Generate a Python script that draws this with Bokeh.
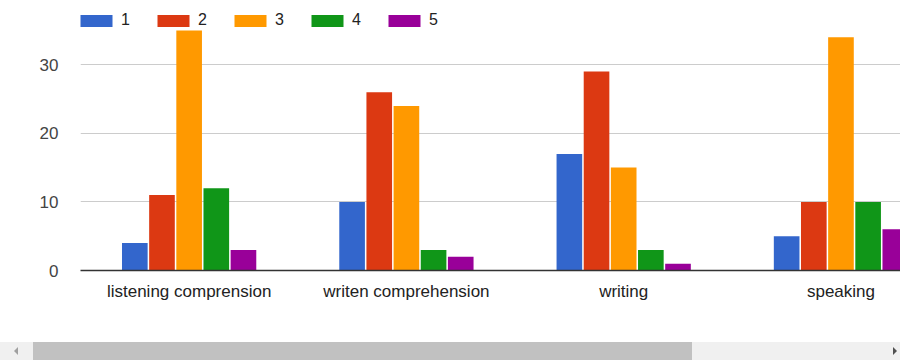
from bokeh.plotting import figure
from bokeh.models import ColumnDataSource, Range1d, FixedTicker, Legend, LegendItem, Div
from bokeh.layouts import column
from bokeh.embed import file_html
from bokeh.resources import INLINE

categories = ["listening comprension", "writen comprehension", "writing", "speaking"]
series_names = ["1", "2", "3", "4", "5"]
s1 = [4, 10, 17, 5]
s2 = [11, 26, 29, 10]
s3 = [35, 24, 15, 34]
s4 = [12, 3, 3, 10]
s5 = [3, 2, 1, 6]
colors = ["#3366cc", "#dc3912", "#ff9900", "#109618", "#990099"]
y_ticks = [0, 10, 20, 30]

series = [s1, s2, s3, s4, s5]
font = "Liberation Sans"

p = figure(width=900, height=342, output_backend="svg", toolbar_location=None,
           x_range=Range1d(-0.5, 3.274), y_range=Range1d(0, 38.2),
           min_border_left=80, min_border_right=0, min_border_top=8, min_border_bottom=72)
p.outline_line_color = None
p.background_fill_color = "white"
p.border_fill_color = "white"

stride = 0.125
width = 0.118
idx = list(range(len(categories)))
items = []
for i, (vals, name, c) in enumerate(zip(series, series_names, colors)):
    src = ColumnDataSource(dict(x=[k + (i - 2) * stride for k in idx], top=vals))
    r = p.vbar(x="x", top="top", bottom=0, width=width, source=src, fill_color=c, line_color=None)
    items.append(LegendItem(label=name, renderers=[r]))

legend = Legend(items=items, orientation="horizontal", location=(-4, 241),
                glyph_width=40, glyph_height=15, label_height=18, label_width=9,
                label_standoff=5, spacing=23, padding=0, margin=0, border_line_color=None,
                background_fill_alpha=0, label_text_font=font, label_text_font_size="16px",
                label_text_color="#222222")
p.add_layout(legend, "center")

# axes
p.xaxis.ticker = FixedTicker(ticks=idx)
p.xaxis.major_label_overrides = {k: c for k, c in zip(idx, categories)}
p.xaxis.major_tick_line_color = None
p.xaxis.minor_tick_line_color = None
p.xaxis.axis_line_color = "#333333"
p.xaxis.axis_line_width = 1.5
p.xaxis.major_label_text_font = font
p.xaxis.major_label_text_font_size = "17px"
p.xaxis.major_label_text_color = "#222222"
p.xaxis.major_label_standoff = 5

p.yaxis.ticker = FixedTicker(ticks=y_ticks)
p.yaxis.major_tick_line_color = None
p.yaxis.minor_tick_line_color = None
p.yaxis.axis_line_color = None
p.yaxis.major_label_text_font = font
p.yaxis.major_label_text_font_size = "17px"
p.yaxis.major_label_text_color = "#444444"
p.yaxis.major_label_standoff = 16

p.xgrid.grid_line_color = None
p.ygrid.ticker = FixedTicker(ticks=y_ticks)
p.ygrid.grid_line_color = "#cccccc"
p.ygrid.grid_line_width = 1

scrollbar = Div(width=900, height=18, margin=0, text=(
    '<div style="position:relative;width:900px;height:18px;background:#f0f0f0;">'
    '<div style="position:absolute;left:33px;top:0;width:659px;height:18px;background:#c1c1c1;"></div>'
    '<div style="position:absolute;left:14px;top:5px;width:0;height:0;border-top:4px solid transparent;'
    'border-bottom:4px solid transparent;border-right:4px solid #a0a0a0;"></div>'
    '<div style="position:absolute;left:893px;top:5px;width:0;height:0;border-top:4px solid transparent;'
    'border-bottom:4px solid transparent;border-left:4px solid #505050;"></div>'
    '</div>'))

layout = column(p, scrollbar, spacing=0)
open("out.html", "w").write(file_html(layout, INLINE))
